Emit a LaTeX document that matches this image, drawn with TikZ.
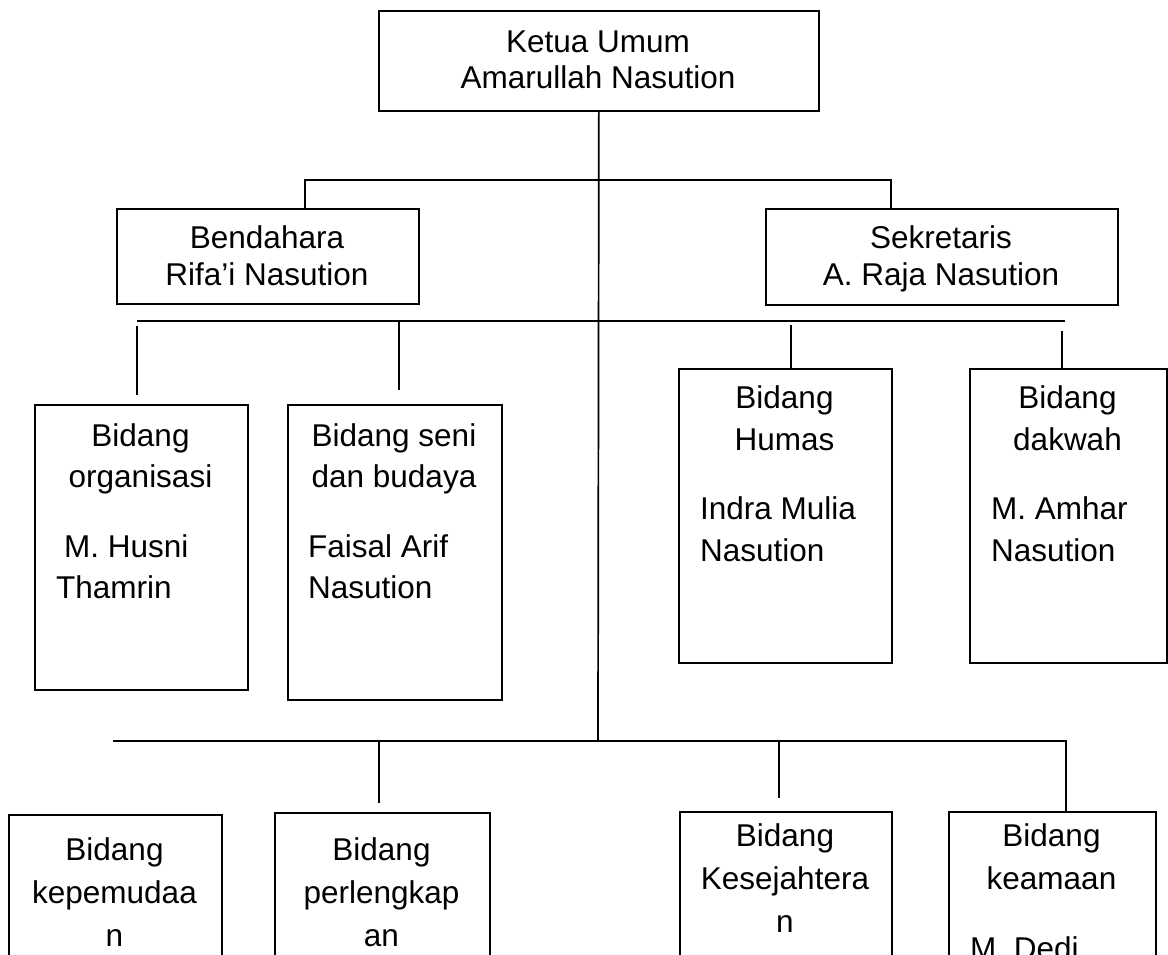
\documentclass[tikz,border=0pt]{standalone}
\usepackage{fontspec}
\setmainfont{Liberation Sans}
\begin{document}
\begin{tikzpicture}[x=1pt,y=-1pt,
  box/.style={draw,line width=1.7pt,anchor=north west,inner sep=0pt},
  ln/.style={line width=1.7pt},
  tc/.style={anchor=base,inner sep=0pt,font=\fontsize{31.5}{38}\selectfont},
  tl/.style={anchor=base west,inner sep=0pt,font=\fontsize{31.5}{38}\selectfont}]
\useasboundingbox (0,0) rectangle (1168,954);
\clip (0,0) rectangle (1168,954);

% top
\node[box,minimum width=440pt,minimum height=100pt] (ketua) at (378,10) {};
\node[tc] (ketuaA) at (598,52) {Ketua Umum};
\node[tc] (ketuaB) at (598,88) {Amarullah Nasution};

% second level
\node[box,minimum width=302pt,minimum height=95pt] (bend) at (116,208) {};
\node[tc] (bendA) at (267,248) {Bendahara};
\node[tc] (bendB) at (267,285) {Rifa’i Nasution};

\node[box,minimum width=352pt,minimum height=96pt] (sek) at (765,208) {};
\node[tc] (sekA) at (941,248) {Sekretaris};
\node[tc] (sekB) at (941,285) {A. Raja Nasution};

% third level
\node[box,minimum width=213pt,minimum height=285pt] (org) at (34,404) {};
\node[tc] (orgA) at (140.5,446) {Bidang};
\node[tc] (orgB) at (140.5,487) {organisasi};
\node[tl] (orgC) at (64,557) {M. Husni};
\node[tl] (orgD) at (56,598) {Thamrin};

\node[box,minimum width=214pt,minimum height=295pt] (seni) at (287,404) {};
\node[tc] (seniA) at (394,446) {Bidang seni};
\node[tc] (seniB) at (394,487) {dan budaya};
\node[tl] (seniC) at (308,557) {Faisal Arif};
\node[tl] (seniD) at (308,598) {Nasution};

\node[box,minimum width=213pt,minimum height=294pt] (hum) at (678,368) {};
\node[tc] (humA) at (784.5,408) {Bidang};
\node[tc] (humB) at (784.5,450) {Humas};
\node[tl] (humC) at (700,519) {Indra Mulia};
\node[tl] (humD) at (700,561) {Nasution};

\node[box,minimum width=197pt,minimum height=294pt] (dak) at (969,368) {};
\node[tc] (dakA) at (1067.5,408) {Bidang};
\node[tc] (dakB) at (1067.5,450) {dakwah};
\node[tl] (dakC) at (991,519) {M. Amhar};
\node[tl] (dakD) at (991,561) {Nasution};

% fourth level
\node[box,minimum width=213pt,minimum height=200pt] (pem) at (8,814) {};
\node[tc] (pemA) at (114.5,860) {Bidang};
\node[tc] (pemB) at (114.5,903) {kepemudaa};
\node[tc] (pemC) at (114.5,946) {n};

\node[box,minimum width=215pt,minimum height=200pt] (per) at (274,812) {};
\node[tc] (perA) at (381.5,860) {Bidang};
\node[tc] (perB) at (381.5,903) {perlengkap};
\node[tc] (perC) at (381.5,946) {an};

\node[box,minimum width=212pt,minimum height=200pt] (kes) at (679,811) {};
\node[tc] (kesA) at (785,846) {Bidang};
\node[tc] (kesB) at (785,889) {Kesejahtera};
\node[tc] (kesC) at (785,932) {n};

\node[box,minimum width=207pt,minimum height=200pt] (kea) at (948,811) {};
\node[tc] (keaA) at (1051.5,846) {Bidang};
\node[tc] (keaB) at (1051.5,889) {keamaan};
\node[tl] (keaC) at (970,959) {M. Dedi};

% connector coordinates
\coordinate (b1l) at (305,180);
\coordinate (b1r) at (891,180);
\coordinate (b2l) at (137,321);
\coordinate (b2r) at (1065,321);
\coordinate (b3l) at (113,741);
\coordinate (b3r) at (1066,741);
\coordinate (m3) at (598,741);
\coordinate (d1t) at (137,326);
\coordinate (d1b) at (137,395);
\coordinate (d2t) at (399,321);
\coordinate (d2b) at (399,390);
\coordinate (d3t) at (791,325);
\coordinate (d4t) at (1062,331);
\coordinate (d5t) at (379,741);
\coordinate (d5b) at (379,803);
\coordinate (d6t) at (779,741);
\coordinate (d6b) at (779,798);

% connectors
\draw[ln] (ketua.south) -- (m3);
\draw[ln] (b1l |- bend.north) -- (b1l) -- (b1r) -- (b1r |- sek.north);
\draw[ln] (b2l) -- (b2r);
\draw[ln] (d1t) -- (d1b);
\draw[ln] (d2t) -- (d2b);
\draw[ln] (d3t) -- (d3t |- hum.north);
\draw[ln] (d4t) -- (d4t |- dak.north);
\draw[ln] (b3l) -- (b3r) -- (b3r |- kea.north);
\draw[ln] (d5t) -- (d5b);
\draw[ln] (d6t) -- (d6b);
\end{tikzpicture}
\end{document}
